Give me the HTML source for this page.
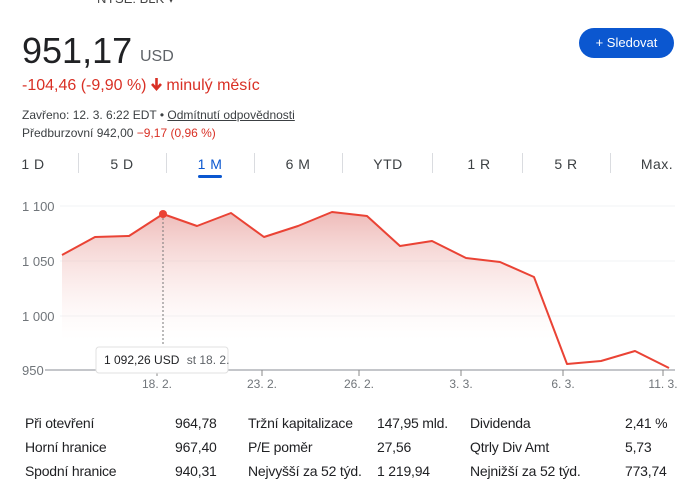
<!DOCTYPE html>
<html><head><meta charset="utf-8"><style>
body{margin:0;width:691px;height:491px;background:#fff;font-family:"Liberation Sans",Arial,sans-serif;position:relative;overflow:hidden;color:#202124}
.a{position:absolute;white-space:nowrap}
.tab{position:absolute;top:156px;font-size:14px;color:#3c4043;transform:translateX(-50%);letter-spacing:0.5px}
.sep{position:absolute;top:153px;width:1px;height:20px;background:#dadce0}
.st{position:absolute;font-size:14px;color:#202124;letter-spacing:-0.2px}
</style></head><body>
<div class="a" style="left:97px;top:-9px;font-size:13px;color:#444">NYSE: BLK ▾</div>
<div class="a" style="left:22px;top:30px;font-size:36px;color:#202124">951,17</div>
<div class="a" style="left:140px;top:48px;font-size:16px;color:#5f6368">USD</div>
<div class="a" style="left:579px;top:28px;width:95px;height:30px;border-radius:15px;background:#0b57d0;color:#fff;font-size:13px;line-height:30px;text-align:center">+ Sledovat</div>
<div class="a" style="left:22px;top:77px;font-size:16px;color:#d93025">-104,46 (-9,90 %) <svg width="11" height="13" viewBox="0 0 11 13" style="vertical-align:-1px"><path d="M5.5 0V10M1 6L5.5 11L10 6" stroke="#d93025" stroke-width="2.6" fill="none"/></svg> minulý měsíc</div>
<div class="a" style="left:22px;top:108px;font-size:12px;color:#3c4043">Zavřeno: 12. 3. 6:22 EDT • <span style="text-decoration:underline">Odmítnutí odpovědnosti</span></div>
<div class="a" style="left:22px;top:126px;font-size:12px;color:#3c4043">Předburzovní 942,00 <span style="color:#d93025">−9,17 (0,96 %)</span></div>
<div class="tab" style="left:33px">1 D</div>
<div class="tab" style="left:122px">5 D</div>
<div class="tab" style="left:210px;color:#0b57d0">1 M</div>
<div class="tab" style="left:298px">6 M</div>
<div class="tab" style="left:388px">YTD</div>
<div class="tab" style="left:479px">1 R</div>
<div class="tab" style="left:566px">5 R</div>
<div class="tab" style="left:657px">Max.</div>
<div class="sep" style="left:78px"></div><div class="sep" style="left:166px"></div><div class="sep" style="left:254px"></div><div class="sep" style="left:342px"></div><div class="sep" style="left:432px"></div><div class="sep" style="left:522px"></div><div class="sep" style="left:610px"></div>
<div class="a" style="left:198px;top:175px;width:24px;height:3px;border-radius:2px;background:#0b57d0"></div>
<svg class="a" style="left:0;top:0" width="691" height="400">
<defs><linearGradient id="g" gradientUnits="userSpaceOnUse" x1="0" y1="206" x2="0" y2="340"><stop offset="0" stop-color="#e8a3a0" stop-opacity="0.8"/><stop offset="1" stop-color="#fde6e4" stop-opacity="0"/></linearGradient></defs>
<g stroke="#f1f3f4" stroke-width="1"><line x1="60" y1="206" x2="675" y2="206"/><line x1="60" y1="261" x2="675" y2="261"/><line x1="60" y1="316" x2="675" y2="316"/></g>
<g font-size="13" fill="#70757a"><text x="22" y="211">1 100</text><text x="22" y="266">1 050</text><text x="22" y="321">1 000</text><text x="22" y="375">950</text></g>
<path d="M62,255 L95,237 129,236 163,214 197,226 231,213 264,237 298,226 332,212 367,216 400,246 432,241 466,258 500,262 534,277 567,364 601,361 635,351 669,368 L669,370 L62,370Z" fill="url(#g)"/>
<polyline points="62,255 95,237 129,236 163,214 197,226 231,213 264,237 298,226 332,212 367,216 400,246 432,241 466,258 500,262 534,277 567,364 601,361 635,351 669,368" fill="none" stroke="#ea4335" stroke-width="2" stroke-linejoin="round"/>
<line x1="163" y1="214" x2="163" y2="346" stroke="#777" stroke-dasharray="2,2"/>
<circle cx="163" cy="214" r="4" fill="#ea4335"/>
<line x1="45" y1="370" x2="675" y2="370" stroke="#b0b3b8" stroke-width="1.5"/>
<g stroke="#888"><line x1="157" y1="370" x2="157" y2="376"/><line x1="262" y1="370" x2="262" y2="376"/><line x1="359" y1="370" x2="359" y2="376"/><line x1="461" y1="370" x2="461" y2="376"/><line x1="563" y1="370" x2="563" y2="376"/><line x1="663" y1="370" x2="663" y2="376"/></g>
<g font-size="12" fill="#70757a" text-anchor="middle"><text x="157" y="388">18. 2.</text><text x="262" y="388">23. 2.</text><text x="359" y="388">26. 2.</text><text x="461" y="388">3. 3.</text><text x="563" y="388">6. 3.</text><text x="663" y="388">11. 3.</text></g>
<rect x="96" y="347" width="132" height="26" rx="3" fill="#fff" stroke="#e0e0e0"/>
<text x="104" y="364" font-size="12" fill="#202124">1 092,26 USD <tspan fill="#5f6368" dx="4">st 18. 2.</tspan></text>
</svg>
<div class="st" style="left:25px;top:415px">Při otevření</div><div class="st" style="left:175px;top:415px">964,78</div>
<div class="st" style="left:248px;top:415px">Tržní kapitalizace</div><div class="st" style="left:377px;top:415px">147,95 mld.</div>
<div class="st" style="left:470px;top:415px">Dividenda</div><div class="st" style="left:625px;top:415px">2,41 %</div>
<div class="st" style="left:25px;top:439px">Horní hranice</div><div class="st" style="left:175px;top:439px">967,40</div>
<div class="st" style="left:248px;top:439px">P/E poměr</div><div class="st" style="left:377px;top:439px">27,56</div>
<div class="st" style="left:470px;top:439px">Qtrly Div Amt</div><div class="st" style="left:625px;top:439px">5,73</div>
<div class="st" style="left:25px;top:463px">Spodní hranice</div><div class="st" style="left:175px;top:463px">940,31</div>
<div class="st" style="left:248px;top:463px">Nejvyšší za 52 týd.</div><div class="st" style="left:377px;top:463px">1 219,94</div>
<div class="st" style="left:470px;top:463px">Nejnižší za 52 týd.</div><div class="st" style="left:625px;top:463px">773,74</div>
</body></html>
